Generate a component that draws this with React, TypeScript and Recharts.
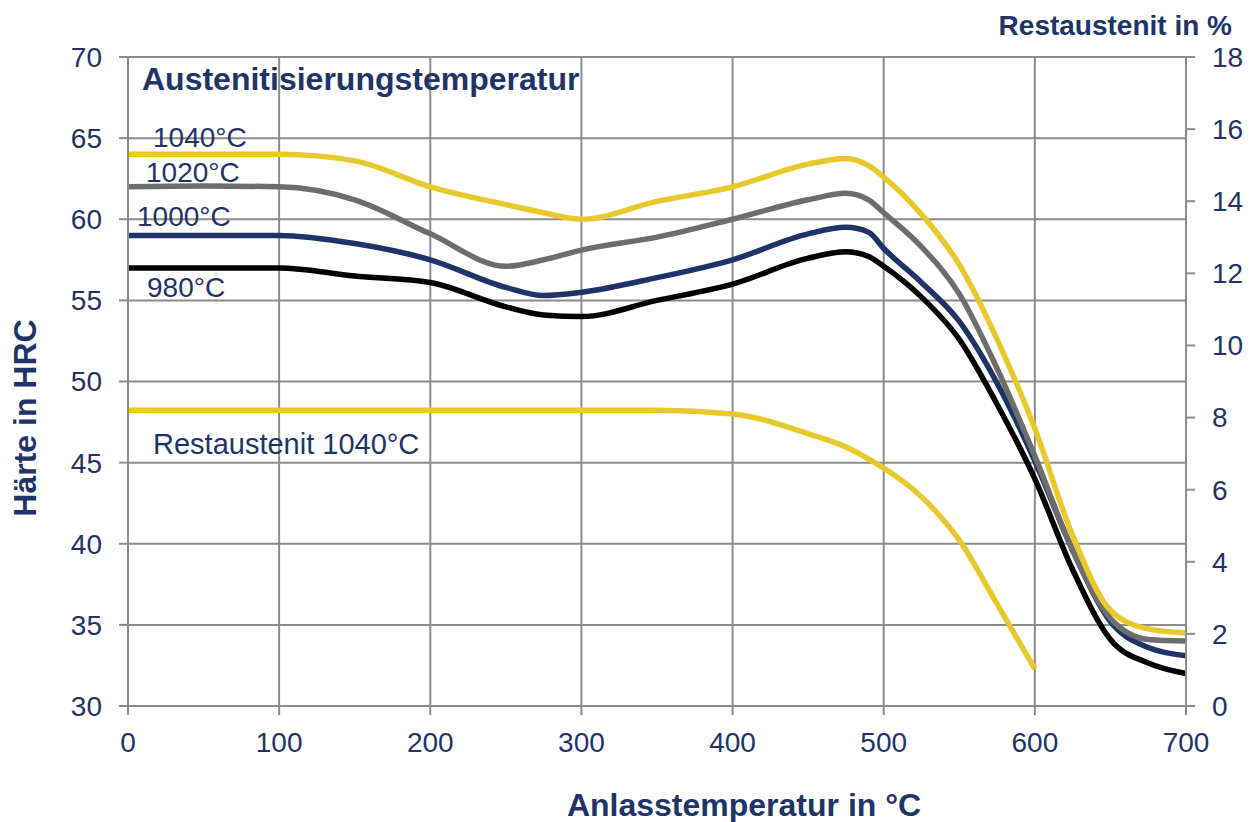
import React from 'react';
import { LineChart, Line, XAxis, YAxis, CartesianGrid } from 'recharts';

// Anlasstemperatur in °C
const temps = [0, 50, 100, 150, 200, 250, 275, 300, 350, 400, 450, 475, 490, 500, 525, 550, 575, 600, 625, 650, 675, 700];

// Härte in HRC per Austenitisierungstemperatur
const hrc1040 = [64.0, 64.0, 64.0, 63.6, 62.0, 60.9, 60.4, 60.0, 61.1, 62.0, 63.4, 63.75, 63.3, 62.6, 60.3, 57.2, 52.6, 47.1, 40.5, 35.9, 34.75, 34.5];
const hrc1020 = [62.0, 62.05, 62.0, 61.2, 59.1, 57.1, 57.5, 58.1, 58.9, 60.0, 61.2, 61.6, 61.2, 60.4, 58.3, 55.4, 50.8, 45.4, 39.6, 35.4, 34.1, 34.0];
const hrc1000 = [59.0, 59.0, 59.0, 58.5, 57.5, 55.8, 55.3, 55.5, 56.4, 57.5, 59.1, 59.5, 59.2, 58.2, 56.1, 53.7, 49.9, 45.1, 39.6, 35.2, 33.6, 33.1];
const hrc980 = [57.0, 57.0, 57.0, 56.5, 56.1, 54.6, 54.1, 54.0, 55.0, 56.0, 57.6, 58.0, 57.7, 57.1, 55.2, 52.6, 48.6, 44.0, 38.4, 34.1, 32.65, 32.0];

// Restaustenit in % (1040°C), measured up to 600°C
const rest1040 = [8.2, 8.2, 8.2, 8.2, 8.2, 8.2, 8.2, 8.2, 8.2, 8.1, 7.55, 7.18, 6.85, 6.6, 5.8, 4.6, 2.83, 1.03, null, null, null, null];

const xTicks = [0, 100, 200, 300, 400, 500, 600, 700];
const leftTicks = [30, 35, 40, 45, 50, 55, 60, 65, 70];
const rightTicks = [0, 2, 4, 6, 8, 10, 12, 14, 16, 18];

const data = temps.map((t, i) => ({
  t,
  c1040: hrc1040[i],
  c1020: hrc1020[i],
  c1000: hrc1000[i],
  c980: hrc980[i],
  rest: rest1040[i],
}));

const NAVY = '#1F3468';
const GRID = '#8C8C8C';
const YELLOW = '#E8C82A';
const FONT = '"Liberation Sans", Arial, sans-serif';

const tickStyle = { fill: NAVY, fontSize: 28, fontFamily: FONT };

export default function App() {
  return (
    <div style={{ position: 'absolute', left: 0, top: 0, width: 1251, height: 822, background: '#fff' }}>
      <LineChart width={1251} height={822} data={data} margin={{ top: 57, right: 0, bottom: 0, left: 0 }}>
        <CartesianGrid yAxisId="left" stroke={GRID} strokeWidth={2} />
        <XAxis
          dataKey="t"
          type="number"
          domain={[0, 700]}
          ticks={xTicks}
          height={116}
          stroke={GRID}
          strokeWidth={2}
          tickSize={9}
          tickMargin={17}
          tick={tickStyle}
          interval={0}
        />
        <YAxis
          yAxisId="left"
          orientation="left"
          domain={[30, 70]}
          ticks={leftTicks}
          width={128}
          stroke={GRID}
          strokeWidth={2}
          tickSize={9}
          tickMargin={17}
          tick={tickStyle}
          interval={0}
        />
        <YAxis
          yAxisId="right"
          orientation="right"
          domain={[0, 18]}
          ticks={rightTicks}
          width={65}
          stroke={GRID}
          strokeWidth={2}
          tickSize={9}
          tickMargin={17}
          tick={tickStyle}
          interval={0}
        />
        <Line yAxisId="right" type="monotone" dataKey="rest" stroke={YELLOW} strokeWidth={5.5} dot={false} isAnimationActive={false} />
        <Line yAxisId="left" type="monotone" dataKey="c980" stroke="#000000" strokeWidth={5.5} dot={false} isAnimationActive={false} />
        <Line yAxisId="left" type="monotone" dataKey="c1000" stroke="#1E3468" strokeWidth={5.5} dot={false} isAnimationActive={false} />
        <Line yAxisId="left" type="monotone" dataKey="c1020" stroke="#6D6D6D" strokeWidth={5.5} dot={false} isAnimationActive={false} />
        <Line yAxisId="left" type="monotone" dataKey="c1040" stroke={YELLOW} strokeWidth={5.5} dot={false} isAnimationActive={false} />
      </LineChart>
      <svg width={1251} height={822} style={{ position: 'absolute', left: 0, top: 0, pointerEvents: 'none' }}>
        <g fill={NAVY} fontFamily={FONT}>
          <text x={142} y={90} fontSize={32} fontWeight="bold">Austenitisierungstemperatur</text>
          <text x={153} y={147} fontSize={28}>1040°C</text>
          <text x={146} y={182} fontSize={28}>1020°C</text>
          <text x={137} y={226} fontSize={28}>1000°C</text>
          <text x={147} y={297} fontSize={28}>980°C</text>
          <text x={153} y={454} fontSize={29}>Restaustenit 1040°C</text>
          <text x={1232} y={35} fontSize={28} fontWeight="bold" textAnchor="end">Restaustenit in %</text>
          <text x={744} y={816} fontSize={32} fontWeight="bold" textAnchor="middle">Anlasstemperatur in °C</text>
          <text transform="translate(36,418) rotate(-90)" fontSize={32} fontWeight="bold" textAnchor="middle">Härte in HRC</text>
        </g>
      </svg>
    </div>
  );
}
